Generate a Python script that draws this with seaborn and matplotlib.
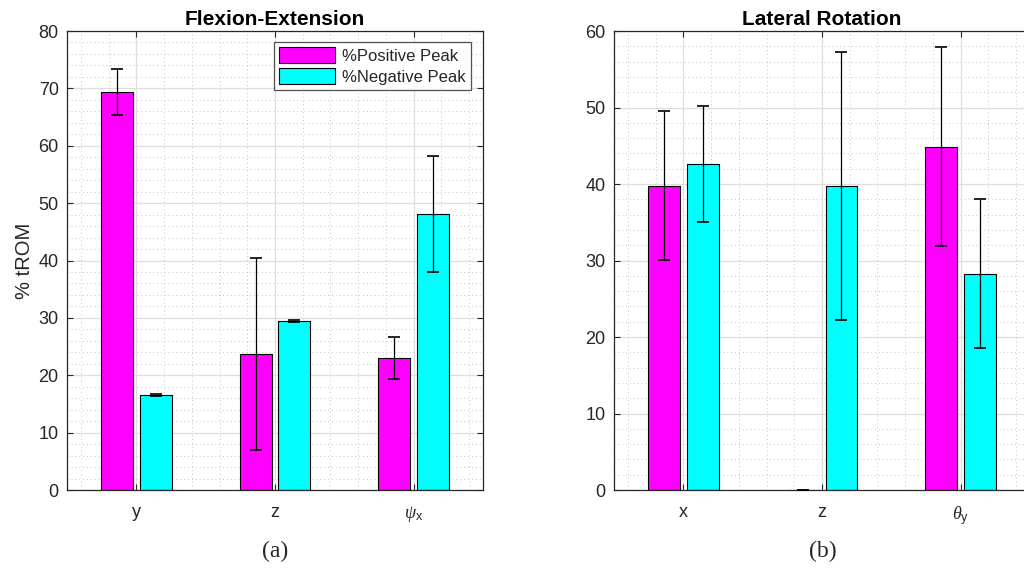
"""
    Two-panel grouped bar chart: % tROM at positive / negative peak for
    flexion-extension and lateral rotation, with error bars.
"""

import numpy as np
import pandas as pd
import seaborn as sns
import matplotlib.pyplot as plt
from matplotlib.ticker import MultipleLocator

series = ['%Positive Peak', '%Negative Peak']
colors = ['#ff00ff', '#00ffff']

flex_labels = ['y', 'z', r'$\psi_\mathregular{x}$']
flex_pos = [69.3, 23.7, 23.0]
flex_pos_err = [4.0, 16.7, 3.6]
flex_neg = [16.6, 29.4, 48.1]
flex_neg_err = [0.2, 0.2, 10.1]

lat_labels = ['x', 'z', r'$\theta_\mathregular{y}$']
lat_pos = [39.8, 0.0, 44.9]
lat_pos_err = [9.75, 0.0, 13.0]
lat_neg = [42.6, 39.7, 28.3]
lat_neg_err = [7.6, 17.5, 9.75]


def make_frame(labels, pos, neg):
    return pd.DataFrame({
        'cat': list(labels) * 2,
        'series': [series[0]] * len(labels) + [series[1]] * len(labels),
        'value': list(pos) + list(neg),
    })


def draw_panel(ax, labels, pos, pos_err, neg, neg_err, ymax, title):
    df = make_frame(labels, pos, neg)
    sns.barplot(data=df, x='cat', y='value', hue='series', palette=colors,
                saturation=1, width=0.56, gap=0.18, edgecolor='black',
                linewidth=0.8, errorbar=None, ax=ax, zorder=2)
    # error bars on top of bars
    for cont, errs in zip(ax.containers, [pos_err, neg_err]):
        xs = [p.get_x() + p.get_width() / 2 for p in cont.patches]
        ys = [p.get_height() for p in cont.patches]
        ax.errorbar(xs, ys, yerr=errs, fmt='none', ecolor='black',
                    elinewidth=0.9, capsize=4, capthick=1.2, zorder=4)

    ax.set_xlim(-0.5, 2.5)
    ax.set_ylim(0, ymax)
    ax.set_xlabel('')
    ax.set_ylabel('')
    ax.set_title(title, fontsize=15, fontweight='bold', color='black', pad=4)
    ax.xaxis.set_minor_locator(MultipleLocator(0.2))
    ax.yaxis.set_minor_locator(MultipleLocator(2))
    ax.grid(which='major', color='#dedede', linewidth=0.9, linestyle='-', zorder=0)
    ax.grid(which='minor', color='#c4c4c4', linewidth=0.7, linestyle=(0, (1, 3)), zorder=0)
    ax.set_axisbelow(True)
    ax.tick_params(which='major', direction='in', length=4, width=0.8,
                   top=True, right=True, labelsize=13, colors='#262626', pad=6)
    ax.tick_params(which='minor', length=0, top=True, right=True)
    ax.tick_params(axis='x', pad=10)
    ax.set_xticks(range(len(labels)))
    ax.set_xticklabels(labels)
    for s in ax.spines.values():
        s.set_color('#262626')
        s.set_linewidth(0.9)
        s.set_visible(True)
    ax.set_facecolor('white')


def main():
    sns.set_theme(style='ticks')
    plt.rcParams['font.family'] = ['Liberation Sans', 'DejaVu Sans']
    plt.rcParams['mathtext.fontset'] = 'custom'
    plt.rcParams['mathtext.rm'] = 'Liberation Sans'
    plt.rcParams['mathtext.it'] = 'Liberation Serif:italic'

    fig = plt.figure(figsize=(10.24, 5.69), dpi=100)
    ax1 = fig.add_axes([0.0654, 0.1388, 0.4063, 0.8067])
    ax2 = fig.add_axes([0.5996, 0.1388, 0.4063, 0.8067])

    draw_panel(ax1, flex_labels, flex_pos, flex_pos_err, flex_neg, flex_neg_err,
               80, 'Flexion-Extension')
    draw_panel(ax2, lat_labels, lat_pos, lat_pos_err, lat_neg, lat_neg_err,
               60, 'Lateral Rotation')

    ax1.set_ylabel('% tROM', fontsize=14.5, color='#262626', labelpad=3)

    leg = ax1.legend(loc='upper right', bbox_to_anchor=(0.97, 0.975),
                     fontsize=12, frameon=True, fancybox=False,
                     handlelength=3.4, handleheight=1.1, handletextpad=0.4,
                     borderpad=0.3, labelspacing=0.25, borderaxespad=0)
    leg.get_frame().set_edgecolor('#262626')
    leg.get_frame().set_linewidth(0.9)
    ax2.get_legend().remove()

    fig.text(0.2686, 0.030, '(a)', fontsize=17, family='Liberation Serif',
             ha='center', va='center')
    fig.text(0.8037, 0.030, '(b)', fontsize=17, family='Liberation Serif',
             ha='center', va='center')

    fig.savefig('out.png', dpi=100)


if __name__ == "__main__":
    main()
